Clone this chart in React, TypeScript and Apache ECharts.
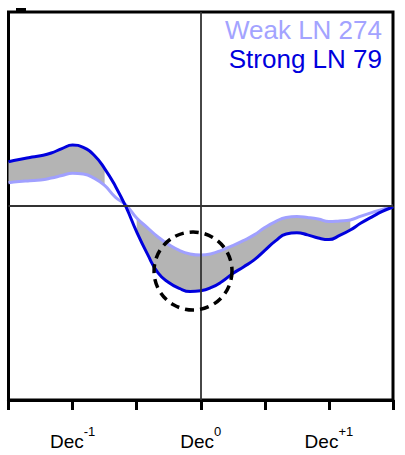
import React, { useEffect, useRef } from 'react';
import * as echarts from 'echarts';

// months relative to December of year 0
const months = [-18, -17, -16, -15, -14, -13, -12, -11, -10, -9, -8, -7, -6, -5, -4, -3, -2, -1, 0, 1, 2, 3, 4, 5, 6, 7, 8, 9, 10, 11, 12, 13, 14, 15, 16, 17, 18];

const strongLN = [0.228, 0.240, 0.250, 0.259, 0.273, 0.296, 0.314, 0.302, 0.263, 0.193, 0.103, -0.005, -0.134, -0.247, -0.345, -0.394, -0.425, -0.441, -0.437, -0.420, -0.389, -0.348, -0.314, -0.278, -0.229, -0.180, -0.144, -0.138, -0.149, -0.165, -0.173, -0.152, -0.124, -0.088, -0.057, -0.028, -0.005];

const weakLN = [0.120, 0.126, 0.130, 0.134, 0.144, 0.157, 0.169, 0.165, 0.144, 0.106, 0.046, 0.005, -0.062, -0.111, -0.160, -0.199, -0.229, -0.247, -0.253, -0.246, -0.227, -0.204, -0.178, -0.149, -0.111, -0.080, -0.059, -0.054, -0.059, -0.067, -0.080, -0.077, -0.072, -0.052, -0.034, -0.018, 0.000];

// 1 = difference significant (shaded)
const significant = [1, 1, 1, 1, 1, 1, 1, 1, 1, 1, 0, 0, 1, 1, 1, 1, 1, 1, 1, 1, 1, 1, 1, 1, 1, 1, 1, 1, 1, 1, 1, 1, 1, 0, 0, 0, 0];

const tickMonths = [-12, 0, 12];
const tickSups = ['-1', '0', '+1'];
const legendNames = ['Weak LN 274', 'Strong LN 79'];

const FONT = 'Liberation Sans, Arial, Helvetica, sans-serif';
const SMOOTH = 0.5;

type Pt = [number, number];
type Seg = { c1: Pt; c2: Pt; p: Pt };

// Cubic segments following ECharts' own line smoothing
function smoothSegments(pts: Pt[]): Seg[] {
  const segs: Seg[] = [];
  const n = pts.length;
  let cp0: Pt = [pts[0][0], pts[0][1]];
  for (let i = 1; i < n; i++) {
    const [x, y] = pts[i];
    const [px, py] = pts[i - 1];
    let c1: Pt;
    let next: Pt = [x, y];
    if (i < n - 1) {
      const [nx, ny] = pts[i + 1];
      const dx = x - px;
      const dy = y - py;
      const lenPrev = Math.sqrt(dx * dx + dy * dy);
      const lenNext = Math.sqrt((x - nx) * (x - nx) + (y - ny) * (y - ny));
      const ratio = lenNext / (lenNext + lenPrev);
      let vx = nx - px;
      let vy = ny - py;
      let ncx = x + vx * SMOOTH * ratio;
      let ncy = y + vy * SMOOTH * ratio;
      ncx = Math.min(ncx, Math.max(nx, x));
      ncy = Math.min(ncy, Math.max(ny, y));
      ncx = Math.max(ncx, Math.min(nx, x));
      ncy = Math.max(ncy, Math.min(ny, y));
      vx = ncx - x;
      vy = ncy - y;
      let c1x = x - (vx * lenPrev) / lenNext;
      let c1y = y - (vy * lenPrev) / lenNext;
      c1x = Math.min(c1x, Math.max(px, x));
      c1y = Math.min(c1y, Math.max(py, y));
      c1x = Math.max(c1x, Math.min(px, x));
      c1y = Math.max(c1y, Math.min(py, y));
      vx = x - c1x;
      vy = y - c1y;
      next = [x + (vx * lenNext) / lenPrev, y + (vy * lenNext) / lenPrev];
      c1 = [c1x, c1y];
    } else {
      c1 = [x, y];
    }
    segs.push({ c1: cp0, c2: c1, p: [x, y] });
    cp0 = next;
  }
  return segs;
}

export default function App() {
  const ref = useRef<HTMLDivElement>(null);

  useEffect(() => {
    const chart = echarts.init(ref.current!, null, { renderer: 'svg' });

    // contiguous shaded ranges
    const ranges: [number, number][] = [];
    let start = -1;
    significant.forEach((s, i) => {
      if (s && start < 0) start = i;
      if ((!s || i === significant.length - 1) && start >= 0) {
        ranges.push([start, s ? i : i - 1]);
        start = -1;
      }
    });

    const renderFill = (_params: any, api: any) => {
      const sp: Pt[] = months.map((m, i) => api.coord([m, strongLN[i]]));
      const wp: Pt[] = months.map((m, i) => api.coord([m, weakLN[i]]));
      const ss = smoothSegments(sp);
      const ws = smoothSegments(wp);
      const f = (v: number) => v.toFixed(2);
      let d = '';
      ranges.forEach(([a, b]) => {
        d += `M${f(sp[a][0])} ${f(sp[a][1])}`;
        for (let i = a; i < b; i++) {
          const s = ss[i];
          d += `C${f(s.c1[0])} ${f(s.c1[1])} ${f(s.c2[0])} ${f(s.c2[1])} ${f(s.p[0])} ${f(s.p[1])}`;
        }
        d += `L${f(wp[b][0])} ${f(wp[b][1])}`;
        for (let i = b - 1; i >= a; i--) {
          const s = ws[i];
          d += `C${f(s.c2[0])} ${f(s.c2[1])} ${f(s.c1[0])} ${f(s.c1[1])} ${f(wp[i][0])} ${f(wp[i][1])}`;
        }
        d += 'Z';
      });
      return {
        type: 'path',
        shape: { pathData: d },
        style: { fill: '#b4b4b4', stroke: 'none' },
      };
    };

    chart.setOption({
      animation: false,
      grid: {
        left: 8.5,
        right: 12,
        top: 12,
        bottom: 55,
        show: true,
        borderColor: '#000',
        borderWidth: 3,
        backgroundColor: 'transparent',
      },
      xAxis: {
        type: 'value',
        min: -18,
        max: 18,
        interval: 6,
        axisLine: { show: true, onZero: false, lineStyle: { color: '#000', width: 3 } },
        axisTick: { show: true, inside: false, length: 10, lineStyle: { color: '#000', width: 3 } },
        splitLine: { show: false },
        axisLabel: {
          margin: 25,
          fontFamily: FONT,
          color: '#000',
          formatter: (v: number) => {
            const k = tickMonths.indexOf(v);
            return k >= 0 ? `{a|Dec}{b|${tickSups[k]}}` : '';
          },
          rich: {
            a: { fontSize: 19, lineHeight: 26, fontFamily: FONT, color: '#000', verticalAlign: 'bottom' },
            b: { fontSize: 13, lineHeight: 13, fontFamily: FONT, color: '#000', verticalAlign: 'top' },
          },
        },
      },
      yAxis: {
        type: 'value',
        min: -1,
        max: 1,
        axisLine: { show: false },
        axisTick: { show: false },
        axisLabel: { show: false },
        splitLine: { show: false },
      },
      series: [
        {
          type: 'custom',
          coordinateSystem: 'cartesian2d',
          data: [[0, 0]],
          renderItem: renderFill,
          silent: true,
          z: 1,
        },
        {
          type: 'line',
          data: [],
          z: 2,
          markLine: {
            silent: true,
            symbol: ['none', 'none'],
            label: { show: false },
            lineStyle: { color: '#333', width: 1.8, type: 'solid' },
            data: [{ xAxis: 0 }, { yAxis: 0 }],
          },
        },
        {
          type: 'line',
          name: legendNames[0],
          data: months.map((m, i) => [m, weakLN[i]]),
          smooth: SMOOTH,
          symbol: 'none',
          z: 3,
          lineStyle: { color: '#a0a0ff', width: 3 },
        },
        {
          type: 'line',
          name: legendNames[1],
          data: months.map((m, i) => [m, strongLN[i]]),
          smooth: SMOOTH,
          symbol: 'none',
          z: 4,
          lineStyle: { color: '#0000dd', width: 3 },
        },
      ],
      graphic: [
        {
          type: 'text',
          x: 382,
          y: 17,
          z: 100,
          style: {
            text: legendNames[0],
            fontSize: 26,
            fontFamily: FONT,
            fill: '#a3a3ff',
            align: 'right',
            verticalAlign: 'top',
          },
        },
        {
          type: 'text',
          x: 382,
          y: 46,
          z: 100,
          style: {
            text: legendNames[1],
            fontSize: 26,
            fontFamily: FONT,
            fill: '#0000dd',
            align: 'right',
            verticalAlign: 'top',
          },
        },
        {
          type: 'circle',
          shape: { cx: 193, cy: 271, r: 39 },
          style: { fill: 'none', stroke: '#000', lineWidth: 3.5, lineDash: [9, 6] },
          z: 100,
        },
        {
          type: 'rect',
          shape: { x: 16, y: 8, width: 10, height: 4 },
          style: { fill: '#000' },
        },
      ],
    });

    return () => chart.dispose();
  }, []);

  return (
    <div
      ref={ref}
      style={{ position: 'fixed', left: 0, top: 0, width: 405, height: 455, background: '#fff' }}
    />
  );
}
